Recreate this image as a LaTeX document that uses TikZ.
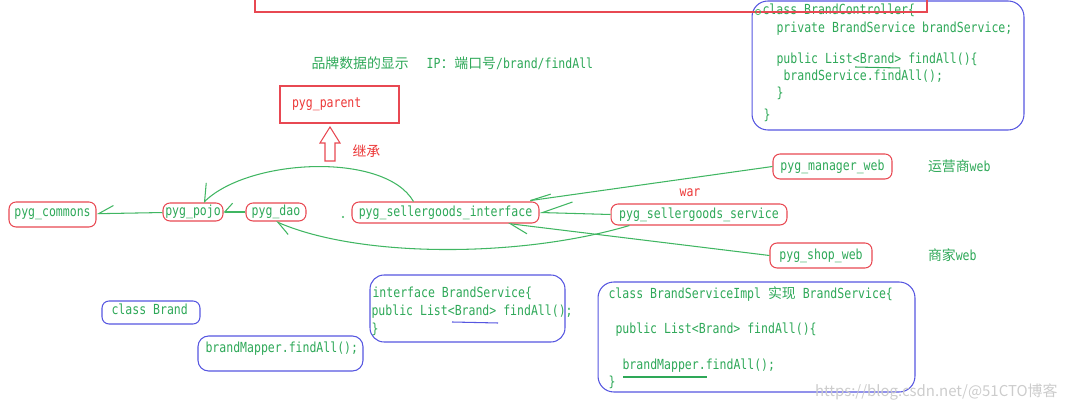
\documentclass[tikz,border=0pt]{standalone}
\usepackage{fontspec}
\newfontfamily\codefont[FakeStretch=0.83]{DejaVu Sans Mono}
\newfontfamily\cjk{Noto Sans CJK SC}
\usetikzlibrary{positioning,arrows.meta}
\newcommand\codetext{\codefont\fontsize{7.9pt}{9pt}\selectfont}
\newcommand\zh[1]{{\cjk #1}}
\definecolor{codegreen}{RGB}{46,168,88}
\definecolor{linegreen}{RGB}{64,182,98}
\definecolor{boxred}{RGB}{232,72,82}
\definecolor{textred}{RGB}{236,56,56}
\definecolor{boxblue}{RGB}{86,86,224}

\begin{document}
\begin{tikzpicture}[
	x=0.02cm, y=-0.02cm,
	line width=0.6pt,
	ar/.style 2 args={draw=linegreen,-{Straight Barb[harpoon,swap,length=#1,width=#2]}},
	arr/.style 2 args={draw=linegreen,-{Straight Barb[harpoon,length=#1,width=#2]}},
	modnode/.style={
	  draw=boxred,
	  rounded corners=4pt,
	  text=codegreen,
	  font=\codetext,
	  inner sep=0pt
	  },
	codebox/.style={draw=boxblue, rounded corners=8pt, inner sep=0pt},
	code/.style={font=\codetext, text=codegreen, inner sep=0pt, anchor=west,
	  text height=6pt, text depth=1.5pt},
	lbl/.style={font=\codetext, text=codegreen, inner sep=0pt}
	]
		\useasboundingbox (0,0) rectangle (1067,411);

		% controller box, top right
		\node[codebox, minimum width=5.44cm, minimum height=2.58cm, rounded corners=9pt] (ctrlbox) at (888,65.5) {};
		\node[code] (ctrl1) at (762,11) {class BrandController\{};
		\node[code] (ctrl2) at (776,29) {private BrandService brandService;};
		\node[code] (ctrl3) at (776,60) {public List<Brand> findAll()\{};
		\node[code] (ctrl4) at (783,77) {brandService.findAll();};
		\node[code] (ctrl5) at (776,94) {\}};
		\node[code] (ctrl6) at (763,116) {\}};
		\draw[codegreen] (855,67) -- (900,68);
		\draw[boxred] (255,0) -- (255,12) -- (927,12) -- (927,0);
		\draw[linegreen, line width=0.4pt] (758,12) circle (1.5pt);

		\node[lbl, anchor=west] (title) at (311,63)
			{\zh{品牌数据的显示}\hspace{0.36cm}IP\zh{：端口号}/brand/findAll};

		\node[draw=boxred, text=textred, font=\codetext, inner sep=0pt, inner xsep=0.24cm,
			minimum width=2.38cm, minimum height=0.74cm, text width=1.9cm, align=left]
			(parent) at (339.5,104.5) {pyg\_parent};
		\draw[boxred] (325,161) -- (325,143) -- (320,143) -- (330,127)
			-- (340,143) -- (335,143) -- (335,161) -- cycle;
		\node[lbl, text=textred, anchor=west] (inherit) at (352,151) {\zh{继承}};

		% modules
		\node[modnode, minimum width=1.74cm, minimum height=0.5cm] (commons) at (52.5,214.5) {pyg\_commons};
		\node[modnode, minimum width=1.2cm, minimum height=0.36cm] (pojo) at (193,212) {pyg\_pojo};
		\node[modnode, minimum width=1.2cm, minimum height=0.36cm] (dao) at (276,212) {pyg\_dao};
		\node[modnode, minimum width=3.74cm, minimum height=0.42cm] (iface) at (445.5,212.5) {pyg\_sellergoods\_interface};
		\node[modnode, minimum width=3.52cm, minimum height=0.42cm] (svc) at (699,214.5) {pyg\_sellergoods\_service};
		\node[modnode, minimum width=2.38cm, minimum height=0.5cm] (mgr) at (832.5,166.5) {pyg\_manager\_web};
		\node[modnode, minimum width=2.04cm, minimum height=0.5cm] (shop) at (821,255.5) {pyg\_shop\_web};

		\node[lbl, right=0.7cm of mgr] (mgrlbl) {\zh{运营商}web};
		\node[lbl, right=1.1cm of shop] (shoplbl) {\zh{商家}web};
		\node[lbl, text=textred] (war) at (690,193) {war};
		\fill[linegreen] (343,217) circle (0.6pt);

		\draw[ar={8.5pt}{9pt}]
			(pojo) -- (commons);
		\draw[ar={4.5pt}{10pt}]
			(dao) -- (pojo);
		\draw[ar={8pt}{14pt}]
			(iface.161) .. controls (385,152) and (250,158) .. (pojo.42);
		\draw[arr={8pt}{8pt}]
			(svc.189) .. controls (520,258) and (360,258) .. (dao.south);
		\draw[ar={12pt}{4pt}]
			(mgr.west) -- (iface.8);
		\draw[ar={17pt}{13pt}]
			(svc.west) -- (iface.east);
		\draw[arr={10pt}{9pt}]
			(shop.west) -- (iface.350);

		% code boxes, bottom
		\node[codebox, minimum width=1.96cm, minimum height=0.46cm, rounded corners=4pt] (classbox) at (151,312.5) {};
		\node[code] (classtxt) at (111,311) {class Brand};
		\node[codebox, minimum width=3.3cm, minimum height=0.7cm, rounded corners=6pt] (mapbox) at (280.5,353.5) {};
		\node[code] (maptxt) at (205,349) {brandMapper.findAll();};

		\node[codebox, minimum width=3.9cm, minimum height=1.34cm] (ifcbox) at (467.5,308.5) {};
		\node[code] (ifc1) at (372,294) {interface BrandService\{};
		\node[code] (ifc2) at (371,312) {public List<Brand> findAll();};
		\node[code] (ifc3) at (371,330) {\}};
		\draw[boxblue] (452,322) -- (498,323);

		\node[codebox, minimum width=6.34cm, minimum height=2.2cm, rounded corners=9pt] (implbox) at (756.5,337) {};
		\node[code] (impl1) at (608,295) {class BrandServiceImpl \zh{实现} BrandService\{};
		\node[code] (impl2) at (615,330) {public List<Brand> findAll()\{};
		\node[code] (impl3) at (622,366) {brandMapper.findAll();};
		\node[code] (impl4) at (608,383) {\}};
		\draw[codegreen] (623,377) -- (707,377);

		\node[font=\cjk\fontsize{8.5pt}{10pt}\selectfont, text=gray!40, anchor=east, inner sep=0pt]
			(wmark) at (1058,392) {https://blog.csdn.net/@51CTO博客};
	\end{tikzpicture}
\end{document}
